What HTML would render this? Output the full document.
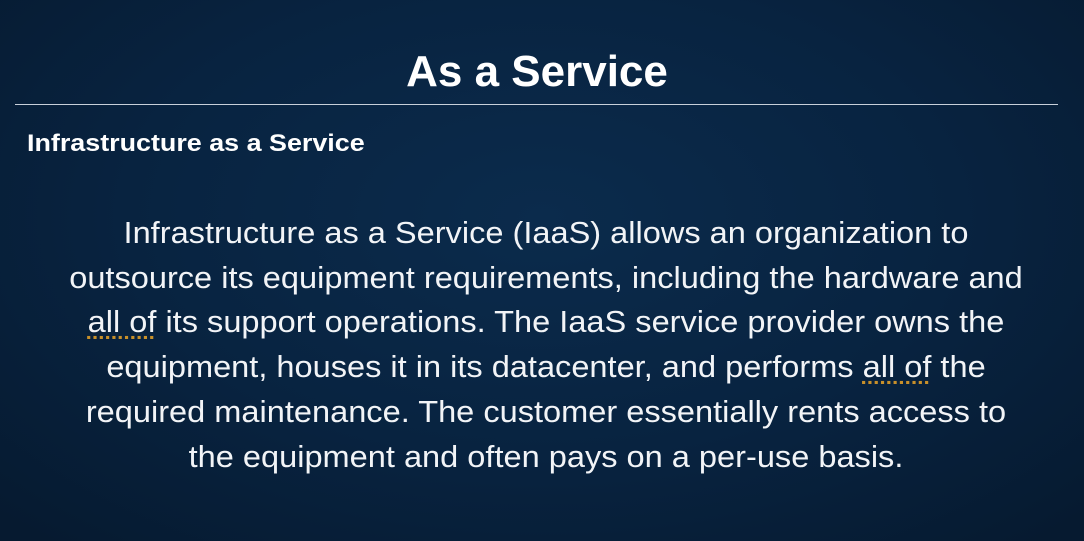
<!DOCTYPE html>
<html><head><style>
html,body{margin:0;padding:0}
body{width:1084px;height:541px;overflow:hidden;position:relative;
background:radial-gradient(ellipse 70% 80% at 50% 40%,#0b2b4c 0%,#082340 55%,#061a30 100%);
font-family:"Liberation Sans",sans-serif;color:#fff}
.t{position:absolute;left:-5px;width:1084px;text-align:center;top:46px;font-size:44px;font-weight:bold;line-height:52px}
.hr{position:absolute;left:15px;width:1043px;top:104px;height:1px;background:#c8d0da}
.s{position:absolute;left:27px;top:129px;font-size:24px;font-weight:bold;line-height:30px;transform:scaleX(1.12);transform-origin:left center;white-space:nowrap}
.b{position:absolute;left:4px;width:1084px;top:211px;text-align:center;font-size:31px;line-height:44.7px;font-weight:300;color:#f2f4f7}
.b div{white-space:nowrap;transform:scaleX(1.05)}
.b span.u{text-decoration:underline dotted #c8902a;text-underline-offset:4px}
</style></head><body>
<div class="t">As a Service</div>
<div class="hr"></div>
<div class="s">Infrastructure as a Service</div>
<div class="b">
<div>Infrastructure as a Service (IaaS) allows an organization to</div>
<div>outsource its equipment requirements, including the hardware and</div>
<div><span class="u">all of</span> its support operations. The IaaS service provider owns the</div>
<div>equipment, houses it in its datacenter, and performs <span class="u">all of</span> the</div>
<div>required maintenance. The customer essentially rents access to</div>
<div>the equipment and often pays on a per-use basis.</div>
</div>
</body></html>
